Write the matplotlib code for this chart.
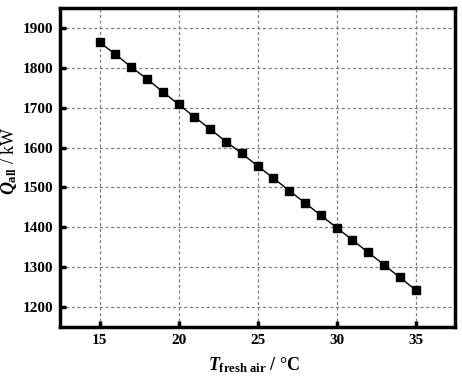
import numpy as np
import matplotlib
matplotlib.use("Agg")
import matplotlib.pyplot as plt

plt.rcParams['font.family'] = 'Liberation Serif'
plt.rcParams['font.weight'] = 'bold'
plt.rcParams['mathtext.fontset'] = 'custom'
plt.rcParams['mathtext.rm'] = 'Liberation Serif:bold'
plt.rcParams['mathtext.it'] = 'Liberation Serif:italic:bold'
plt.rcParams['mathtext.bf'] = 'Liberation Serif:bold'

# fresh air temperature (degC) and total load (kW)
t_fresh = [15, 16, 17, 18, 19, 20, 21, 22, 23, 24, 25,
           26, 27, 28, 29, 30, 31, 32, 33, 34, 35]
q_all = [1864, 1834, 1802, 1772, 1740, 1708, 1677, 1646, 1615, 1585, 1554,
         1523, 1492, 1461, 1430, 1399, 1368, 1337, 1306, 1274, 1243]

x_ticks = [15, 20, 25, 30, 35]
y_ticks = [1200, 1300, 1400, 1500, 1600, 1700, 1800, 1900]

fig = plt.figure(figsize=(4.62, 3.81), dpi=100)
ax = fig.add_axes([0.13, 0.142, 0.855, 0.837])

ax.plot(t_fresh, q_all, color='black', lw=1.0, marker='s', ms=6, zorder=3)

ax.set_xlim(12.5, 37.5)
ax.set_ylim(1150, 1950)
ax.set_xticks(x_ticks)
ax.set_yticks(y_ticks)
ax.grid(True, ls='--', color='gray', lw=0.9, dashes=(2.5, 2))
ax.tick_params(direction='in', length=4, width=2.5, labelsize=11, pad=5)
for s in ax.spines.values():
    s.set_linewidth(2.5)

ax.set_xlabel(r'$T_{\rm fresh\ air}$ / °C', fontsize=13, fontweight='bold')
ax.set_ylabel(r'$Q_{\rm all}$ / kW', fontsize=13, fontweight='normal')
ax.xaxis.set_label_coords(0.49, -0.09)
ax.yaxis.set_label_coords(-0.105, 0.52)

fig.savefig('out.png', dpi=100)
